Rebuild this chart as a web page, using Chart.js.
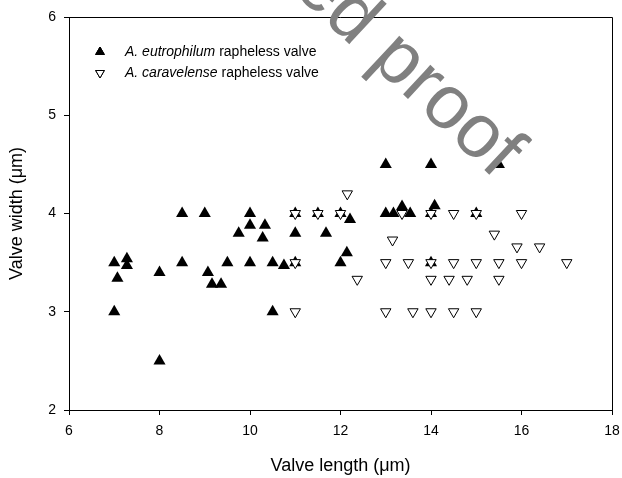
<!DOCTYPE html>
<html>
<head>
<meta charset="utf-8">
<script src="https://cdn.jsdelivr.net/npm/chart.js@4/dist/chart.umd.min.js"></script>
<style>
  html, body { margin: 0; padding: 0; background: #fff; }
  #wrap { width: 622px; height: 478px; }
</style>
</head>
<body>
<div id="wrap"><canvas id="chart" width="622" height="478"></canvas></div>
<script>
// A. eutrophilum rapheless valve (filled up-triangles)
const eutroLength = [7.0, 7.0, 7.07, 7.28, 7.28, 8.0, 8.0, 8.5, 8.5, 9.0, 9.07, 9.16, 9.36, 9.5, 9.75,
    10.0, 10.0, 10.0, 10.33, 10.28, 10.5, 10.5, 10.75, 11.0, 11.0, 11.0, 11.5, 11.68, 12.0, 12.0,
    12.14, 12.21, 13.0, 13.0, 13.17, 13.36, 13.54, 14.0, 14.0, 14.0, 14.08, 15.0, 15.5];
const eutroWidth = [3.5, 3.0, 3.34, 3.54, 3.47, 3.4, 2.5, 4.0, 3.5, 4.0, 3.4, 3.28, 3.28, 3.5, 3.8,
    4.0, 3.88, 3.5, 3.88, 3.75, 3.5, 3.0, 3.47, 3.8, 4.0, 3.5, 4.0, 3.8, 4.0, 3.5,
    3.6, 3.94, 4.5, 4.0, 4.0, 4.07, 4.0, 4.5, 4.0, 3.5, 4.08, 4.0, 4.5];

// A. caravelense rapheless valve (open down-triangles)
const caraLength = [11.0, 11.5, 12.0, 11.0, 11.0, 12.15, 12.37, 13.0, 13.15, 13.0, 13.36, 14.0, 14.5,
    15.0, 16.0, 15.4, 15.9, 16.4, 13.5, 14.0, 14.5, 15.0, 15.5, 16.0, 17.0, 14.0, 14.4, 14.8, 15.5,
    13.6, 14.0, 14.5, 15.0];
const caraWidth = [4.0, 4.0, 4.0, 3.5, 3.0, 4.2, 3.33, 3.5, 3.73, 3.0, 4.0, 4.0, 4.0,
    4.0, 4.0, 3.79, 3.66, 3.66, 3.5, 3.5, 3.5, 3.5, 3.5, 3.5, 3.5, 3.33, 3.33, 3.33, 3.33,
    3.0, 3.0, 3.0, 3.0];

const xTicks = [6, 8, 10, 12, 14, 16, 18];
const yTicks = [2, 3, 4, 5, 6];

const FONT = "'Liberation Sans', Arial, sans-serif";

function toPoints(xs, ys) {
    return xs.map((x, i) => ({ x: x, y: ys[i] }));
}

const framePlugin = {
    id: 'frame',
    afterDraw(chart) {
        const { ctx, chartArea: a } = chart;
        ctx.save();
        ctx.strokeStyle = '#000';
        ctx.lineWidth = 1;
        ctx.beginPath();
        ctx.moveTo(a.left, a.top + 0.5);
        ctx.lineTo(a.right + 0.5, a.top + 0.5);
        ctx.lineTo(a.right + 0.5, a.bottom);
        ctx.stroke();

        // legend inside the plot
        const rows = [
            { italic: 'A. eutrophilum', rest: ' rapheless valve', ds: 0 },
            { italic: 'A. caravelense', rest: ' rapheless valve', ds: 1 },
        ];
        rows.forEach((r, i) => {
            const y = a.top + 35 + i * 21;
            const mx = a.left + 31;
            const d = chart.data.datasets[r.ds];
            Chart.helpers.drawPoint(ctx, {
                pointStyle: 'triangle',
                rotation: d.pointRotation || 0,
                radius: 5,
                borderWidth: 1,
            }, mx, y);
            ctx.fillStyle = d.pointBackgroundColor;
            ctx.strokeStyle = '#000';
            ctx.lineWidth = 1;
            ctx.fill();
            ctx.stroke();

            ctx.fillStyle = '#000';
            ctx.textBaseline = 'middle';
            ctx.textAlign = 'left';
            ctx.font = 'italic 14px ' + FONT;
            const tx = a.left + 56;
            ctx.fillText(r.italic, tx, y);
            const w = ctx.measureText(r.italic).width;
            ctx.font = '14px ' + FONT;
            ctx.fillText(r.rest, tx + w, y);
        });

        // proof watermark
        ctx.translate(495, 180);
        ctx.rotate(43 * Math.PI / 180);
        ctx.font = '76px ' + FONT;
        ctx.fillStyle = '#808080';
        ctx.textAlign = 'right';
        ctx.textBaseline = 'alphabetic';
        ctx.fillText('Uncorrected proof', 0, 0);
        ctx.restore();
    }
};

const chart = new Chart(document.getElementById('chart').getContext('2d'), {
    type: 'scatter',
    data: {
        datasets: [
            {
                label: 'A. eutrophilum rapheless valve',
                data: toPoints(eutroLength, eutroWidth),
                pointStyle: 'triangle',
                pointRadius: 7,
                pointBackgroundColor: '#000',
                pointBorderColor: '#000',
                pointBorderWidth: 0,
                order: 1,
            },
            {
                label: 'A. caravelense rapheless valve',
                data: toPoints(caraLength, caraWidth),
                pointStyle: 'triangle',
                pointRotation: 180,
                pointRadius: 6,
                pointBackgroundColor: '#fff',
                pointBorderColor: '#000',
                pointBorderWidth: 1,
                order: 0,
            },
        ],
    },
    options: {
        responsive: false,
        animation: false,
        events: [],
        layout: {
            padding: { top: 17, right: 10, left: 0, bottom: 0 },
        },
        plugins: {
            legend: { display: false },
            tooltip: { enabled: false },
        },
        scales: {
            x: {
                type: 'linear',
                min: 6,
                max: 18,
                afterBuildTicks: (axis) => {
                    axis.ticks = xTicks.map((v) => ({ value: v }));
                },
                afterFit: (axis) => {
                    axis.height = 68;
                    axis.paddingLeft = 0;
                    axis.paddingRight = 0;
                },
                ticks: {
                    color: '#000',
                    font: { family: FONT, size: 14 },
                    padding: 8,
                    maxRotation: 0,
                },
                grid: {
                    drawOnChartArea: false,
                    drawTicks: true,
                    tickLength: 5,
                    color: '#000',
                },
                border: { display: true, color: '#000', width: 1 },
                title: {
                    display: true,
                    text: 'Valve length (\u03bcm)',
                    color: '#000',
                    font: { family: FONT, size: 18 },
                    padding: { top: 0, bottom: 1 },
                },
            },
            y: {
                type: 'linear',
                min: 2,
                max: 6,
                afterBuildTicks: (axis) => {
                    axis.ticks = yTicks.map((v) => ({ value: v }));
                },
                afterFit: (axis) => {
                    axis.width = 69;
                    axis.paddingTop = 0;
                    axis.paddingBottom = 0;
                },
                ticks: {
                    color: '#000',
                    font: { family: FONT, size: 14 },
                    padding: 8,
                },
                grid: {
                    drawOnChartArea: false,
                    drawTicks: true,
                    tickLength: 5,
                    color: '#000',
                },
                border: { display: true, color: '#000', width: 1 },
                title: {
                    display: true,
                    text: 'Valve width (\u03bcm)',
                    color: '#000',
                    font: { family: FONT, size: 18 },
                    padding: { top: 6, bottom: 0 },
                },
            },
        },
    },
    plugins: [framePlugin],
});
</script>
</body>
</html>
